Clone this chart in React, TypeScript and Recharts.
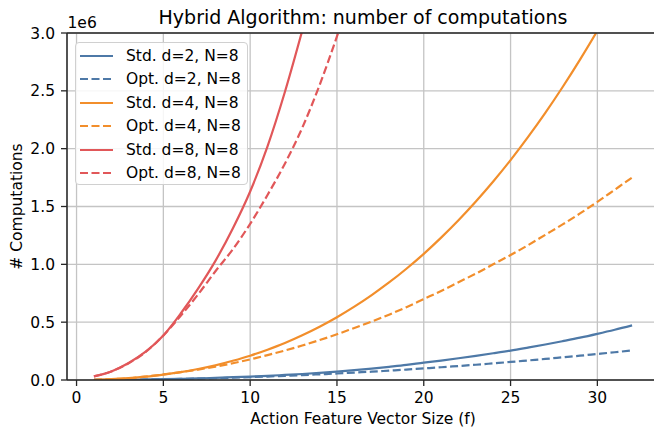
import React from 'react';
import { LineChart, Line, XAxis, YAxis, CartesianGrid, Legend } from 'recharts';

// Feature vector sizes f on the x axis
const featureSizes = [
  1, 2, 3, 4, 5, 6, 7, 8, 9, 10, 11, 12, 13, 14, 15, 16,
  17, 18, 19, 20, 21, 22, 23, 24, 25, 26, 27, 28, 29, 30, 31, 32,
];

// Number of computations, in millions (axis offset 1e6)
const stdD2 = [
  0.0005, 0.0015, 0.003, 0.005, 0.007, 0.01, 0.014, 0.018, 0.024, 0.03, 0.036, 0.044, 0.052, 0.062, 0.073, 0.085,
  0.099, 0.114, 0.13, 0.15, 0.168, 0.188, 0.209, 0.231, 0.254, 0.28, 0.307, 0.336, 0.366, 0.399, 0.434, 0.472,
];
const optD2 = [
  0.00025, 0.001, 0.0023, 0.004, 0.0063, 0.009, 0.012, 0.016, 0.02, 0.025, 0.03, 0.036, 0.042, 0.049, 0.056, 0.064,
  0.072, 0.081, 0.09, 0.1, 0.11, 0.121, 0.132, 0.144, 0.156, 0.169, 0.182, 0.196, 0.21, 0.225, 0.24, 0.256,
];
const stdD4 = [
  0.002, 0.007, 0.016, 0.029, 0.047, 0.068, 0.095, 0.127, 0.166, 0.21, 0.262, 0.32, 0.387, 0.461, 0.543, 0.634,
  0.734, 0.843, 0.962, 1.091, 1.231, 1.381, 1.543, 1.716, 1.901, 2.099, 2.309, 2.533, 2.77, 3.02, 3.29, 3.57,
];
const optD4 = [
  0.002, 0.007, 0.015, 0.03, 0.048, 0.068, 0.09, 0.115, 0.145, 0.178, 0.215, 0.255, 0.298, 0.345, 0.395, 0.45,
  0.505, 0.565, 0.63, 0.7, 0.77, 0.845, 0.92, 1.0, 1.08, 1.165, 1.255, 1.345, 1.44, 1.54, 1.645, 1.75,
];
const stdD8 = [0.031, 0.074, 0.147, 0.247, 0.385, 0.575, 0.79, 1.03, 1.31, 1.63, 2.02, 2.49, 3.02, 3.58];
const optD8 = [0.031, 0.074, 0.145, 0.245, 0.385, 0.555, 0.74, 0.94, 1.13, 1.35, 1.6, 1.87, 2.18, 2.55, 2.97, 3.42];

const xTicks = [0, 5, 10, 15, 20, 25, 30];
const yTicks = [0, 0.5, 1.0, 1.5, 2.0, 2.5, 3.0];

const BLUE = '#4e79a7';
const ORANGE = '#f28e2b';
const RED = '#e15759';
const DASH = '8 3.5';
const LINE_W = 2.2;
const FONT = '"DejaVu Sans", sans-serif';

const series = [
  { key: 'stdD2', name: 'Std. d=2, N=8', color: BLUE, dashed: false, values: stdD2 },
  { key: 'optD2', name: 'Opt. d=2, N=8', color: BLUE, dashed: true, values: optD2 },
  { key: 'stdD4', name: 'Std. d=4, N=8', color: ORANGE, dashed: false, values: stdD4 },
  { key: 'optD4', name: 'Opt. d=4, N=8', color: ORANGE, dashed: true, values: optD4 },
  { key: 'stdD8', name: 'Std. d=8, N=8', color: RED, dashed: false, values: stdD8 },
  { key: 'optD8', name: 'Opt. d=8, N=8', color: RED, dashed: true, values: optD8 },
];

const data = featureSizes.map((f, i) => {
  const row: Record<string, number> = { f };
  series.forEach((s) => {
    if (i < s.values.length) row[s.key] = s.values[i];
  });
  return row;
});

const LegendBox = () => (
  <div
    style={{
      background: 'rgba(255,255,255,0.85)',
      border: '1px solid #d0d0d0',
      borderRadius: 4,
      padding: '1px 6px 0 4px',
      fontFamily: FONT,
      fontSize: 15.5,
      color: '#000',
      boxSizing: 'border-box',
      height: 143,
    }}
  >
    {series.map((s) => (
      <div key={s.key} style={{ display: 'flex', alignItems: 'center', height: 23.5, whiteSpace: 'nowrap' }}>
        <svg width={33} height={10} style={{ display: 'block' }}>
          <line
            x1={0}
            y1={5}
            x2={33}
            y2={5}
            stroke={s.color}
            strokeWidth={LINE_W}
            strokeDasharray={s.dashed ? DASH : undefined}
          />
        </svg>
        <span style={{ marginLeft: 13 }}>{s.name}</span>
      </div>
    ))}
  </div>
);

const TitleLabel = (props: any) => {
  const vb = props.viewBox || {};
  return (
    <g>
      <text x={vb.x + vb.width / 2} y={24} textAnchor="middle" fontFamily={FONT} fontSize={19} fill="#000">
        Hybrid Algorithm: number of computations
      </text>
      <text x={vb.x + 0.5} y={28.3} textAnchor="start" fontFamily={FONT} fontSize={15.5} fill="#000">
        1e6
      </text>
    </g>
  );
};

const XLabel = (props: any) => {
  const vb = props.viewBox || {};
  return (
    <text x={vb.x + vb.width / 2} y={vb.y + 44} textAnchor="middle" fontFamily={FONT} fontSize={15.5} fill="#000">
      Action Feature Vector Size (f)
    </text>
  );
};

const YLabel = (props: any) => {
  const vb = props.viewBox || {};
  const cx = vb.x + 22;
  const cy = vb.y + vb.height / 2;
  return (
    <text
      x={cx}
      y={cy}
      transform={`rotate(-90 ${cx} ${cy})`}
      textAnchor="middle"
      fontFamily={FONT}
      fontSize={15.5}
      fill="#000"
    >
      # Computations
    </text>
  );
};

export default function App() {
  return (
    <div
      style={{
        position: 'fixed',
        left: 0,
        top: 0,
        width: 654,
        height: 427,
        overflow: 'hidden',
        background: '#fff',
        fontFamily: FONT,
      }}
    >
      <LineChart width={670} height={427} data={data} margin={{ top: 0, right: 11, bottom: 0, left: 0 }}>
        <CartesianGrid stroke="#c4c4c4" strokeWidth={1.3} />
        <XAxis
          xAxisId="top"
          orientation="top"
          dataKey="f"
          type="number"
          domain={[-0.55, 33.55]}
          allowDataOverflow
          height={33}
          tick={false}
          tickLine={false}
          axisLine={{ stroke: '#262626', strokeWidth: 1.5 }}
          label={<TitleLabel />}
        />
        <XAxis
          dataKey="f"
          type="number"
          domain={[-0.55, 33.55]}
          allowDataOverflow
          ticks={xTicks}
          height={47}
          tickSize={6}
          tickMargin={6}
          tick={{ fill: '#000', fontSize: 15.5, fontFamily: FONT }}
          tickLine={{ stroke: '#262626', strokeWidth: 1.3 }}
          axisLine={{ stroke: '#262626', strokeWidth: 1.5 }}
          label={<XLabel />}
        />
        <YAxis
          type="number"
          domain={[0, 3]}
          allowDataOverflow
          ticks={yTicks}
          width={67}
          tickSize={6}
          tickMargin={6}
          tickFormatter={(v: number) => v.toFixed(1)}
          tick={{ fill: '#000', fontSize: 15.5, fontFamily: FONT }}
          tickLine={{ stroke: '#262626', strokeWidth: 1.3 }}
          axisLine={{ stroke: '#262626', strokeWidth: 1.5 }}
          label={<YLabel />}
        />
        {series.map((s) => (
          <Line
            key={s.key}
            type="monotone"
            dataKey={s.key}
            name={s.name}
            stroke={s.color}
            strokeWidth={LINE_W}
            strokeDasharray={s.dashed ? DASH : undefined}
            dot={false}
            activeDot={false}
            isAnimationActive={false}
          />
        ))}
        <Legend
          layout="vertical"
          align="center"
          verticalAlign="middle"
          content={<LegendBox />}
          wrapperStyle={{ left: 75, top: 42, width: 'auto', height: 'auto', right: 'auto', bottom: 'auto' }}
        />
      </LineChart>
    </div>
  );
}
